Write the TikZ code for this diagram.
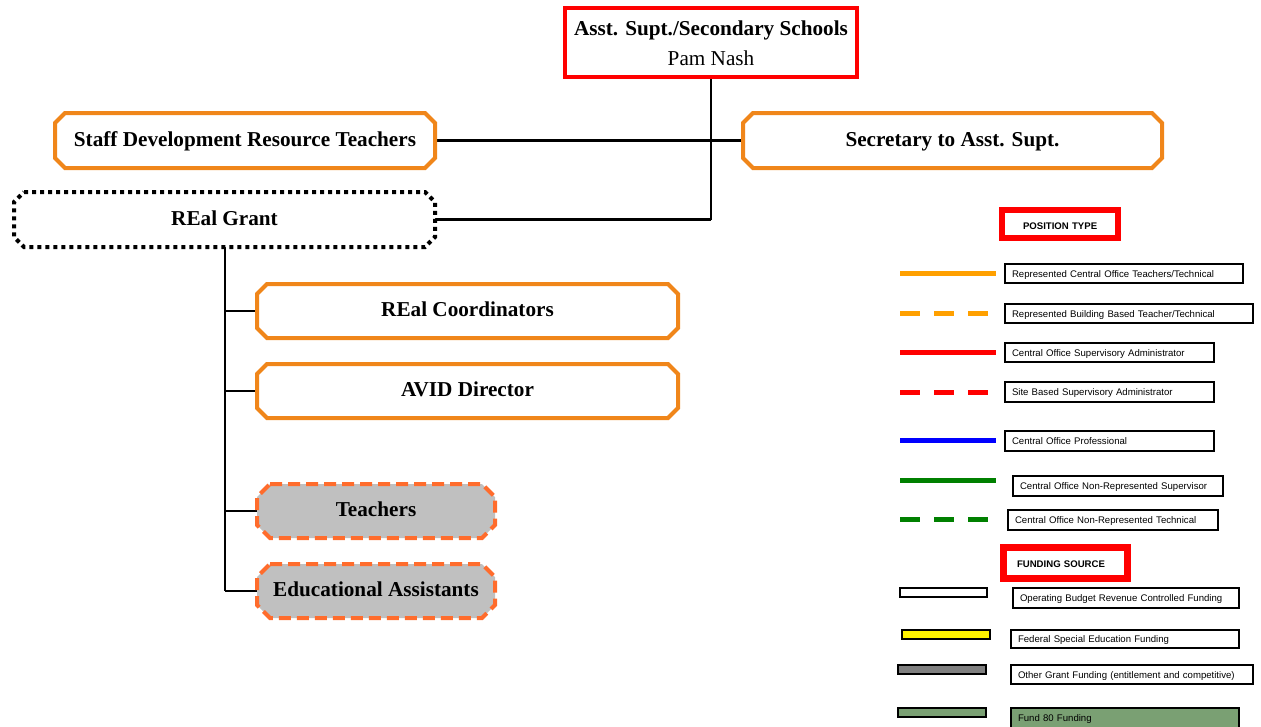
\documentclass[tikz,border=0pt]{standalone}
\usepackage{fontspec}
\setmainfont{Liberation Serif}
\newfontfamily\keyfont{Liberation Sans}
\definecolor{boxorange}{RGB}{240,134,26}
\definecolor{dashorange}{RGB}{255,108,44}
\definecolor{keyorange}{RGB}{255,160,0}
\definecolor{boxgray}{RGB}{192,192,192}
\definecolor{fundgreen}{RGB}{122,160,115}
\definecolor{keygreen}{RGB}{0,128,0}
\definecolor{keyblue}{RGB}{0,0,255}
\definecolor{keyred}{RGB}{255,0,0}

% octagonal post: name, centre, width, height, chamfer, outline style, text
\newcommand\octbox[7]{%
  \node[postbox, minimum width=#3, minimum height=#4] (#1) at #2 {#7};
  \draw[#6] ([xshift=#5]#1.north west) -- ([xshift=-#5]#1.north east)
    -- ([yshift=-#5]#1.north east) -- ([yshift=#5]#1.south east)
    -- ([xshift=-#5]#1.south east) -- ([xshift=#5]#1.south west)
    -- ([yshift=#5]#1.south west) -- ([yshift=-#5]#1.north west) -- cycle;
  \node[postbox, minimum width=#3, minimum height=#4] at #2 {#7};
}

\begin{document}
\begin{tikzpicture}[x=1pt,y=-1pt,
  postbox/.style={rectangle, draw=none, inner sep=0pt, outer sep=0pt,
    text height=14pt, text depth=2.5pt,
    font=\fontsize{21.2}{25}\selectfont\bfseries},
  solidpost/.style={draw=boxorange, line width=4pt, fill=white, line join=miter},
  grantpost/.style={draw=black, line width=4pt, dash pattern=on 4pt off 4pt, fill=white},
  staffpost/.style={draw=dashorange, line width=4pt, dash pattern=on 12pt off 6pt, fill=boxgray},
  link/.style={draw=black, line width=2.4pt},
  keyline/.style={line width=5pt},
  keydash/.style={line width=5pt, dash pattern=on 20pt off 14pt},
  keylabel/.style={draw=black, line width=1.1pt, anchor=north west, outer sep=0pt,
    inner xsep=7pt, inner ysep=0pt, align=left, text height=10pt, text depth=2.2pt,
    font=\keyfont\fontsize{9.6}{11}\selectfont},
  keyhead/.style={draw=keyred, fill=white, anchor=north west, inner sep=0pt, outer sep=0pt,
    align=left, text height=10pt, text depth=0pt,
    font=\keyfont\bfseries\fontsize{9.6}{11}\selectfont},
  fundbar/.style={draw=black, line width=1.2pt}]

\useasboundingbox (0,0) rectangle (1261,726);

% head of the branch
\node[draw=keyred, line width=4pt, fill=white, minimum width=292pt, minimum height=69pt,
  align=center, text height=47.5pt, text depth=2.5pt,
  font=\fontsize{21.2}{30}\selectfont] (head) at (711,42.5)
  {\textbf{Asst. Supt./Secondary Schools}\\Pam Nash};

% connectors (drawn first, boxes cover the ends)
\coordinate (trunk) at (711,219.5);
\draw[link] (head.south) -- (trunk);
\draw[link] (245,140.5) -- (952.5,140.5);
\draw[link] (trunk) -- (435,219.5);
\draw[link] (225,219.5) -- (225,591);
\foreach \yy in {311,391,511,591} \draw[link] (225,\yy) -- (257,\yy);

% posts
\octbox{staffdev}{(245,140.5)}{380pt}{55pt}{10pt}{solidpost}{Staff Development Resource Teachers}
\octbox{secretary}{(952.5,140.5)}{419pt}{55pt}{10pt}{solidpost}{Secretary to Asst. Supt.}
\octbox{grant}{(224.5,219.5)}{421pt}{55pt}{10pt}{grantpost}{REal Grant}
\octbox{coord}{(467.5,311)}{421pt}{54pt}{10pt}{solidpost}{REal Coordinators}
\octbox{avid}{(467.5,391)}{421pt}{54pt}{10pt}{solidpost}{AVID Director}
\octbox{teachers}{(376,511)}{238pt}{54pt}{13pt}{staffpost}{Teachers}
\octbox{assist}{(376,591)}{238pt}{54pt}{13pt}{staffpost}{Educational Assistants}

% key: position type
\node[keyhead, line width=6pt, text width=116pt, minimum height=28pt] (ptype) at (1002,210)
  {\hspace*{21pt}POSITION TYPE};
\draw[keyline, keyorange] (900,273) -- (996,273);
\node[keylabel, text width=224pt, minimum height=19pt] (k1) at (1005,264) {Represented Central Office Teachers/Technical};
\draw[keydash, keyorange] (900,313) -- (996,313);
\node[keylabel, text width=234pt, minimum height=19pt] (k2) at (1005,304) {Represented Building Based Teacher/Technical};
\draw[keyline, keyred] (900,352) -- (996,352);
\node[keylabel, text width=195pt, minimum height=19pt] (k3) at (1005,343) {Central Office Supervisory Administrator};
\draw[keydash, keyred] (900,392) -- (996,392);
\node[keylabel, text width=195pt, minimum height=20pt] (k4) at (1005,382) {Site Based Supervisory Administrator};
\draw[keyline, keyblue] (900,440) -- (996,440);
\node[keylabel, text width=195pt, minimum height=20pt] (k5) at (1005,431) {Central Office Professional};
\draw[keyline, keygreen] (900,480) -- (996,480);
\node[keylabel, text width=196pt, minimum height=20pt] (k6) at (1013,476) {Central Office Non-Represented Supervisor};
\draw[keydash, keygreen] (900,519) -- (996,519);
\node[keylabel, text width=196pt, minimum height=20pt] (k7) at (1008,510) {Central Office Non-Represented Technical};

% key: funding source
\node[keyhead, line width=7pt, text width=124pt, minimum height=31pt, text height=8.5pt] (fsource) at (1003.5,547.5)
  {\hspace*{13.5pt}FUNDING SOURCE};
\draw[fundbar, fill=white] (900,588) rectangle (987,597);
\node[keylabel, text width=212pt, minimum height=20pt] (f1) at (1013,588) {Operating Budget Revenue Controlled Funding};
\draw[fundbar, fill=yellow] (902,630) rectangle (990,639);
\node[keylabel, text width=214pt, minimum height=18pt] (f2) at (1011,630) {Federal Special Education Funding};
\draw[fundbar, fill=gray] (898,665) rectangle (986,674);
\node[keylabel, text width=228pt, minimum height=19pt] (f3) at (1011,665) {Other Grant Funding (entitlement and competitive)};
\draw[fundbar, fill=fundgreen] (898,708) rectangle (986,717);
\node[keylabel, fill=fundgreen, text width=214pt, minimum height=20pt] (f4) at (1011,708) {Fund 80 Funding};
\end{tikzpicture}
\end{document}
